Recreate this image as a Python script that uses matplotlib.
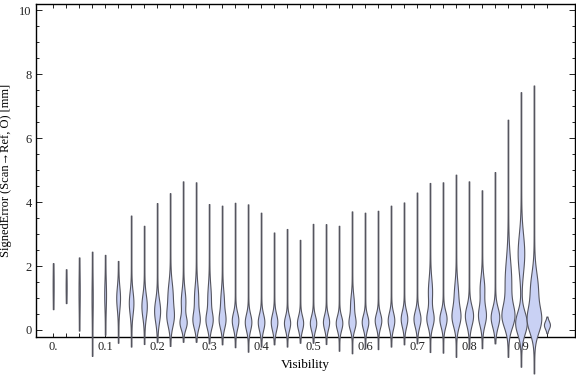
import numpy as np
import matplotlib
matplotlib.use("Agg")
import matplotlib.pyplot as plt
from matplotlib.ticker import FixedLocator, MultipleLocator

# ---- data ----
positions = [round(0.025 * i, 3) for i in range(39)]
vmin = [0.65, 0.84, -0.02, -0.81, -0.15, -0.40, -0.52, -0.44, -0.38, -0.50,
        -0.37, -0.37, -0.42, -0.45, -0.54, -0.68, -0.52, -0.45, -0.52, -0.40,
        -0.40, -0.44, -0.65, -0.73, -0.57, -0.60, -0.52, -0.45, -0.42, -0.69,
        -0.71, -0.84, -0.57, -0.57, -0.42, -0.84, -1.15, -1.36, -0.10]
vmax = [2.09, 1.90, 2.27, 2.45, 2.35, 2.16, 3.58, 3.26, 3.97, 4.28,
        4.65, 4.62, 3.94, 3.89, 3.98, 3.93, 3.67, 3.05, 3.16, 2.82,
        3.32, 3.31, 3.26, 3.71, 3.67, 3.73, 3.89, 3.99, 4.30, 4.60,
        4.62, 4.86, 4.65, 4.37, 4.94, 6.58, 7.44, 7.65, 0.42]
# main density bump: centre, spread, half-width (px)
mode1 = [1.40, 1.35, 1.20, 1.00, 1.10, 1.00, 0.85, 0.75, 0.60, 0.40,
         0.22, 0.30, 0.30, 0.30, 0.30, 0.25, 0.25, 0.25, 0.22, 0.22,
         0.22, 0.25, 0.22, 0.22, 0.25, 0.30, 0.30, 0.35, 0.35, 0.35,
         0.35, 0.40, 0.45, 0.45, 0.40, 0.42, 0.22, 0.31, 0.16]
sd1 = [0.40, 0.30, 0.50, 0.50, 0.40, 0.35, 0.35, 0.35, 0.35, 0.30,
       0.20, 0.25, 0.25, 0.25, 0.25, 0.25, 0.25, 0.25, 0.22, 0.22,
       0.22, 0.22, 0.22, 0.22, 0.22, 0.22, 0.25, 0.25, 0.25, 0.25,
       0.25, 0.30, 0.30, 0.30, 0.30, 0.35, 0.35, 0.40, 0.12]
hw1 = [0.2, 0.2, 0.3, 0.3, 0.6, 1.6, 2.0, 2.4, 2.7, 3.0,
       3.0, 3.0, 3.0, 2.8, 3.0, 3.0, 3.0, 3.0, 2.8, 2.8,
       2.9, 2.8, 3.0, 3.0, 3.0, 3.0, 3.0, 3.0, 3.2, 3.2,
       3.3, 3.8, 3.8, 3.6, 4.0, 5.3, 5.5, 6.5, 2.7]
# secondary bump (0 half-width = none)
mode2 = [1.0] * 9 + [1.1, 0.9, 1.0, 1.0, 0.9] + [1.0] * 9 + [0.8] + [1.0] * 5 + \
        [1.2, 1.0, 1.1, 1.0, 1.3, 1.0, 1.5, 2.4, 1.3, 0.2]
sd2 = [0.4] * 9 + [0.4, 0.35, 0.4, 0.4, 0.35] + [0.4] * 9 + [0.3] + [0.4] * 5 + \
      [0.4, 0.4, 0.4, 0.4, 0.35, 0.4, 0.7, 0.6, 0.5, 0.1]
hw2 = [0.0] * 9 + [2.2, 2.0, 1.8, 1.5, 1.5] + [0.0] * 9 + [1.6] + [0.0] * 5 + \
      [1.8, 0.0, 1.8, 0.0, 2.0, 0.0, 3.0, 3.0, 3.5, 0.0]

xtick_labels = ["0.", "0.1", "0.2", "0.3", "0.4", "0.5", "0.6", "0.7", "0.8", "0.9"]
ytick_vals = [0, 2, 4, 6, 8, 10]

# ---- figure ----
plt.rcParams['font.family'] = ['Liberation Serif', 'DejaVu Serif']
fig = plt.figure(figsize=(5.76, 3.77), dpi=100)
ax = fig.add_axes([36 / 576, 40 / 377, 539 / 576, 333 / 377])
ax.set_xlim(-0.033, 1.004)
ax.set_ylim(-0.22, 10.2)

px_per_x = 539 / (1.004 + 0.033)
thin = 0.3  # px half-width of tails

stats = []
widths = []
for i in range(len(positions)):
    y = np.linspace(vmin[i], vmax[i], 300)
    prof = thin + hw1[i] * np.exp(-0.5 * ((y - mode1[i]) / sd1[i]) ** 2)
    if hw2[i] > 0:
        prof = prof + hw2[i] * np.exp(-0.5 * ((y - mode2[i]) / sd2[i]) ** 2)
    stats.append(dict(coords=y, vals=prof, mean=np.nan, median=np.nan,
                      min=vmin[i], max=vmax[i]))
    widths.append(2 * prof.max() / px_per_x)

parts = ax.violin(stats, positions=positions, widths=widths,
                  showmeans=False, showextrema=False, showmedians=False)
for b in parts['bodies']:
    b.set_facecolor('#c9d1f4')
    b.set_edgecolor('#55555f')
    b.set_linewidth(0.8)
    b.set_alpha(1)
    b.set_clip_on(False)
    b.set_zorder(3)

# ticks
ax.xaxis.set_major_locator(FixedLocator(positions))
lab = []
for p in positions:
    k = round(p * 10, 6)
    if abs(k - round(k)) < 1e-6 and round(k) < 10:
        lab.append(xtick_labels[int(round(k))])
    else:
        lab.append("")
ax.set_xticklabels(lab)
ax.yaxis.set_major_locator(FixedLocator(ytick_vals))
ax.yaxis.set_minor_locator(MultipleLocator(0.5))
ax.set_yticklabels([str(v) for v in ytick_vals])
ax.tick_params(axis='both', which='major', direction='in', top=True, right=True,
               labelsize=9, colors='#222222', pad=3)
ax.tick_params(axis='x', which='major', length=3, width=0.7)
ax.tick_params(axis='y', which='major', length=4.5, width=0.7)
ax.tick_params(axis='y', which='minor', direction='in', right=True, length=2.5, width=0.6)
for s in ax.spines.values():
    s.set_linewidth(1.0)
    s.set_color('black')

ax.set_xlabel("Visibility", fontsize=9.5, labelpad=4)
ax.set_ylabel("SignedError (Scan\u2192Ref, O) [mm]", fontsize=9, labelpad=5)

fig.savefig("out.png", dpi=100)
